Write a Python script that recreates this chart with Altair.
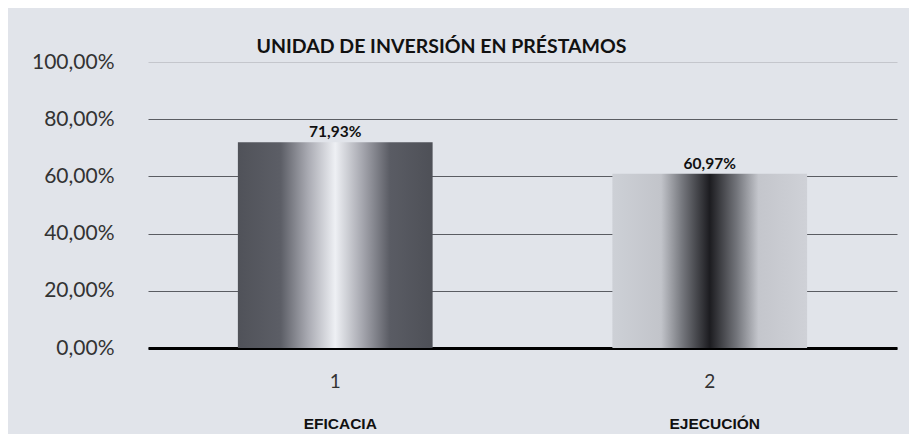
import altair as alt
import pandas as pd

categories = ["1", "2"]
names = ["EFICACIA", "EJECUCIÓN"]
values = [71.93, 60.97]
value_labels = ["71,93%", "60,97%"]
y_ticks = [0, 20, 40, 60, 80, 100]

df = pd.DataFrame({"cat": categories, "name": names, "value": values, "label": value_labels})

W, H = 749, 286
FONT = "Lato"

grad1 = alt.LinearGradient(
    gradient="linear", x1=0, y1=0, x2=1, y2=0,
    stops=[
        alt.GradientStop(offset=0.0, color="#505259"),
        alt.GradientStop(offset=0.22, color="#5c5e66"),
        alt.GradientStop(offset=0.36, color="#a9aab2"),
        alt.GradientStop(offset=0.5, color="#eef0f4"),
        alt.GradientStop(offset=0.64, color="#a5a6ae"),
        alt.GradientStop(offset=0.78, color="#5a5c64"),
        alt.GradientStop(offset=1.0, color="#4e5057"),
    ],
)
grad2 = alt.LinearGradient(
    gradient="linear", x1=0, y1=0, x2=1, y2=0,
    stops=[
        alt.GradientStop(offset=0.0, color="#cdd0d6"),
        alt.GradientStop(offset=0.25, color="#c2c4ca"),
        alt.GradientStop(offset=0.36, color="#74767c"),
        alt.GradientStop(offset=0.5, color="#1c1c20"),
        alt.GradientStop(offset=0.64, color="#74767c"),
        alt.GradientStop(offset=0.75, color="#c4c6cc"),
        alt.GradientStop(offset=1.0, color="#cfd1d7"),
    ],
)

x_enc = alt.X(
    "cat:N",
    sort=categories,
    scale=alt.Scale(paddingInner=0.48, paddingOuter=0.24),
    axis=alt.Axis(
        title=None, labelAngle=0, ticks=False,
        domainColor="#000000", domainWidth=3,
        labelFont=FONT, labelFontSize=19, labelColor="#333333", labelPadding=24,
    ),
)
y_enc = alt.Y(
    "value:Q",
    scale=alt.Scale(domain=[0, 100], nice=False),
    axis=alt.Axis(
        title=None, values=y_ticks, domain=False, ticks=False,
        labelExpr="replace(format(datum.value, '.2f'), '.', ',') + '%'",
        labelFont=FONT, labelFontSize=21, labelColor="#333333", labelPadding=34,
        grid=True, gridWidth=1,
        gridColor={"condition": {"test": "datum.value == 100", "value": "#c4c6cc"}, "value": "#5a5c62"},
    ),
)

base = alt.Chart(df)

bar1 = base.transform_filter(alt.datum.cat == "1").mark_bar(color=grad1).encode(x=x_enc, y=y_enc)
bar2 = base.transform_filter(alt.datum.cat == "2").mark_bar(color=grad2).encode(x=x_enc, y=y_enc)

labels = base.mark_text(
    font=FONT, fontSize=15.5, fontWeight="bold", color="#111111", baseline="bottom", dy=-2
).encode(x=alt.X("cat:N", sort=categories), y="value:Q", text="label:N")

names_txt = base.mark_text(
    font="Liberation Sans", fontSize=15.5, fontWeight="bold", color="#111111", baseline="middle", dx=5
).encode(x=alt.X("cat:N", sort=categories), y=alt.value(H + 76), text="name:N")

chart = (
    alt.layer(bar1, bar2, labels, names_txt)
    .properties(
        width=W, height=H,
        padding={"left": 140, "top": 54, "right": 12, "bottom": 86},
        autosize=alt.AutoSizeParams(type="none"),
        background="#e1e4ea",
        title=alt.TitleParams(
            "UNIDAD DE INVERSIÓN EN PRÉSTAMOS",
            font=FONT, fontSize=19.5, fontWeight="bold", color="#111111",
            anchor="middle", dx=-81, offset=-6, frame="group",
        ),
    )
    .configure_view(stroke=None)
)

chart.save("out.html", embed_options={"renderer": "svg", "actions": False})
